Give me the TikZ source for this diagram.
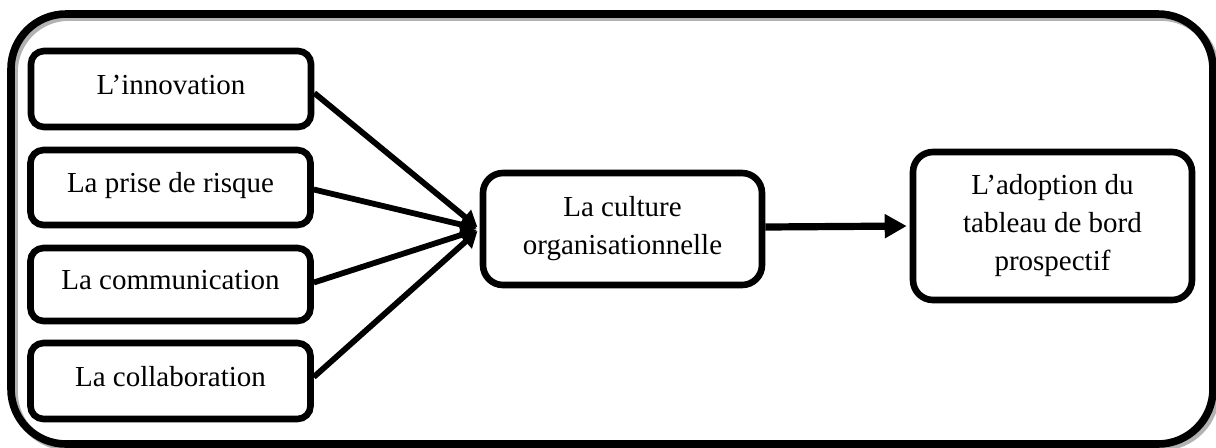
\documentclass[tikz,border=0pt]{standalone}
\usepackage{fontspec}
\setmainfont{Liberation Serif}
\usetikzlibrary{arrows.meta}
\tikzset{
  px/.style={x=0.5pt,y=-0.5pt},
  frame/.style={line width=3.8pt,rounded corners=27.5pt},
  framebox/.style={frame,draw=black},
  shadowbox/.style={frame,draw=black!30},
  leftbox/.style={draw=black,line width=3.3pt,rounded corners=6.5pt,
    minimum width=140pt,inner sep=0pt,
    text height=0.72em,text depth=0.22em,
    font=\fontsize{14.5}{19}\selectfont},
  bigbox/.style={draw=black,line width=3.3pt,rounded corners=10pt,
    minimum width=139.5pt,inner sep=0pt,align=center,
    font=\fontsize{14.5}{19}\selectfont},
  feed/.style={line width=2.9pt,-{Triangle[length=8pt,width=9pt]}},
  mainarrow/.style={line width=3.6pt,-{Triangle[length=11pt,width=11.5pt]}}
}
\begin{document}
\begin{tikzpicture}[px]
\useasboundingbox (0,0) rectangle (1216,447);
% outer frame with shadow
\draw[shadowbox] (14,17) rectangle (1216,447);
\draw[framebox] (11,14) rectangle (1213,444);
% left boxes
\node[leftbox,minimum height=38pt] (innov) at (171,89) {L’innovation};
\node[leftbox,minimum height=37.5pt] (risk) at (170.5,187.5) {La prise de risque};
\node[leftbox,minimum height=36.5pt] (comm) at (170.5,284.5) {La communication};
\node[leftbox,minimum height=38pt] (collab) at (170.5,381) {La collaboration};
% middle and right boxes
\node[bigbox,minimum height=56pt] (culture) at (622.5,229) {La culture\\organisationnelle};
\node[bigbox,minimum height=74pt] (adopt) at (1052.5,226) {L’adoption du\\tableau de bord\\prospectif};
% connectors
\draw[feed,shorten >=1.5pt] ([yshift=-2pt]innov.east) -- (culture.west);
\draw[feed,shorten >=1.5pt] ([yshift=-1pt]risk.east) -- (culture.west);
\draw[feed,shorten >=1.5pt] ([yshift=1pt]comm.east) -- (culture.west);
\draw[feed,shorten >=1.5pt] ([yshift=2pt]collab.east) -- (culture.west);
\draw[mainarrow,shorten >=1.5pt] ([yshift=1pt]culture.east) -- (adopt.west);
\end{tikzpicture}
\end{document}
